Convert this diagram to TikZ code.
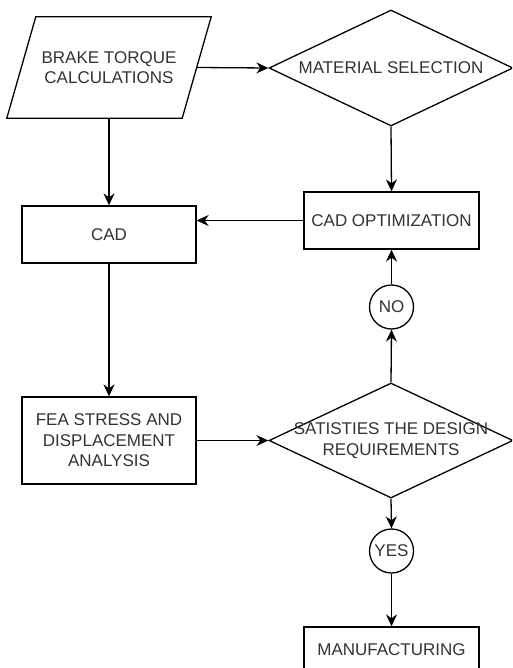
\documentclass[tikz,border=0pt]{standalone}
\usepackage{fontspec}
\setmainfont{Liberation Sans}
\usetikzlibrary{arrows.meta,shapes.geometric,calc}
\definecolor{txtgray}{HTML}{333333}
\tikzset{
  base/.style={line width=1.3pt, draw=black, inner sep=0pt, text=txtgray,
    font=\fontsize{17}{20.5}\selectfont, align=center},
  boxnode/.style={base, rectangle},
  decnode/.style={base, diamond, aspect=2.1},
  circnode/.style={base, circle, minimum size=44pt},
  plaintxt/.style={inner sep=0pt, text=txtgray, font=\fontsize{17}{20.5}\selectfont, align=center},
  conn/.style={line width=1.3pt, -{Stealth[length=12pt,width=11pt,inset=4pt]}}
}
\begin{document}
\begin{tikzpicture}[x=1pt,y=-1pt]
\useasboundingbox (0,0) rectangle (512,668);
\clip (0,0) rectangle (512,668);
\fill[white] (0,0) rectangle (512,668);

% parallelogram
\node[plaintxt, minimum width=175pt, minimum height=101pt] (btc) at (109,67.5) {BRAKE TORQUE\\CALCULATIONS};
\draw[line width=1.3pt] ($(btc.north west)+(14.5,0)$) -- ($(btc.north east)+(14.5,0)$)
  -- ($(btc.south east)+(-14.5,0)$) -- ($(btc.south west)+(-14.5,0)$) -- cycle;

% material selection diamond
\node[decnode, minimum width=244pt, minimum height=116pt] (ms) at (391,68) {};
\node[plaintxt] at (ms) {MATERIAL SELECTION};

\node[boxnode, minimum width=174pt, minimum height=57pt] (cad) at (109,234.5) {CAD};
\node[boxnode, minimum width=175pt, minimum height=57pt] (opt) at (391.5,220.5) {CAD OPTIMIZATION};
\node[circnode] (no) at (391.5,307) {NO};

\node[decnode, minimum width=244pt, minimum height=115pt] (sat) at (391,440.5) {};
\node[plaintxt] at (sat) {SATISTIES THE DESIGN\\REQUIREMENTS};

\node[boxnode, minimum width=174pt, minimum height=87pt] (fea) at (109,440.5) {FEA STRESS AND\\DISPLACEMENT\\ANALYSIS};
\node[circnode] (yes) at (391.5,551) {YES};
\node[boxnode, minimum width=175pt, minimum height=45pt] (mfg) at (391.5,649.5) {MANUFACTURING};

\draw[conn] (btc.east) -- (ms.west);
\draw[conn] (btc.south) -- (cad.north);
\draw[conn] (ms.south) -- (opt.north);
\draw[conn] (opt.west) -- (opt.west -| cad.east);
\draw[conn] (no.north) -- (opt.south);
\draw[conn] (sat.north) -- (no.south);
\draw[conn] (cad.south) -- (fea.north);
\draw[conn] (fea.east) -- (sat.west);
\draw[conn] (sat.south) -- (yes.north);
\draw[conn] (yes.south) -- (mfg.north);
\end{tikzpicture}
\end{document}
